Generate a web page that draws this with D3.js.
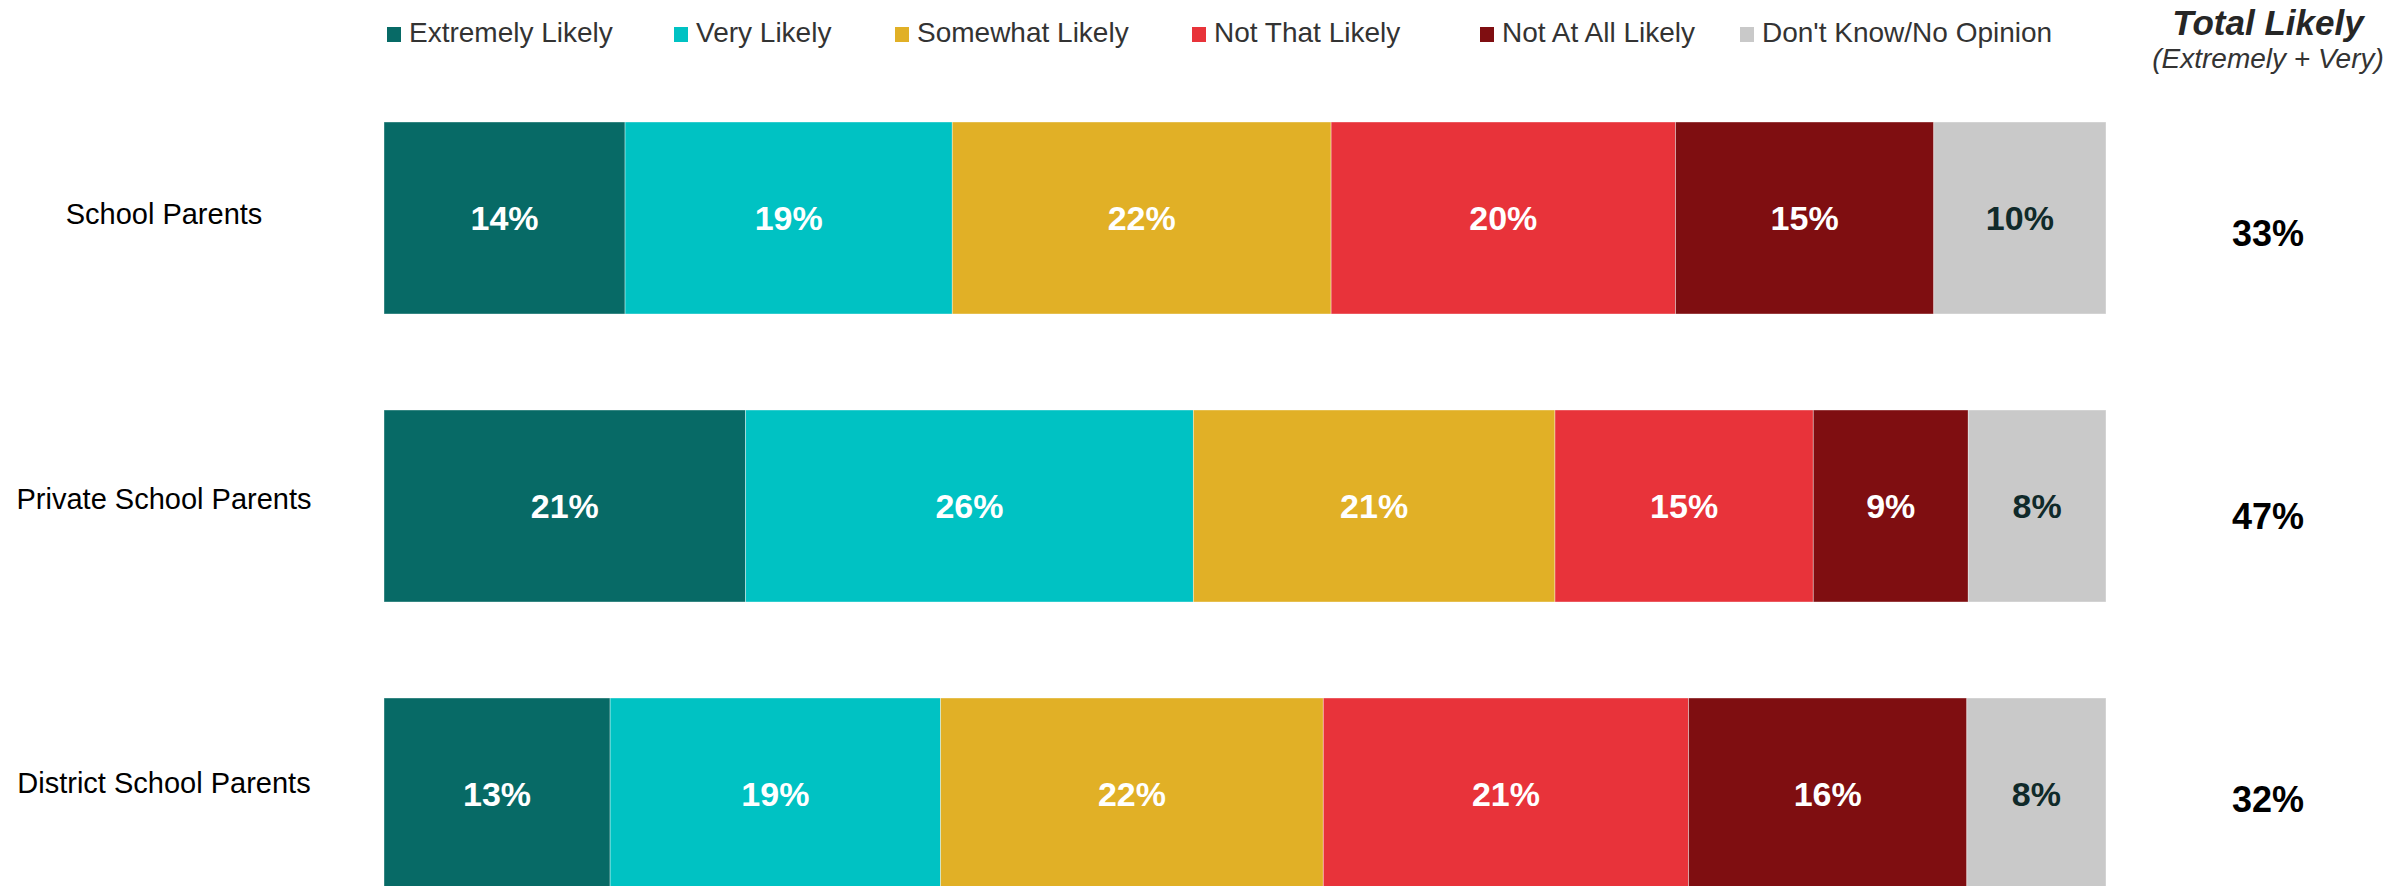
<!DOCTYPE html>
<html>
<head>
<meta charset="utf-8">
<script src="https://cdn.jsdelivr.net/npm/d3@7"></script>
<style>
  html, body { margin: 0; padding: 0; background: #fff; }
  svg { display: block; font-family: "Liberation Sans", Arial, sans-serif; }
</style>
</head>
<body>
<svg id="chart" width="2394" height="886"></svg>
<script>
// Survey groups (rows) and answer categories (stack order, left to right)
const groups = ["School Parents", "Private School Parents", "District School Parents"];
const answers = ["Extremely Likely", "Very Likely", "Somewhat Likely", "Not That Likely", "Not At All Likely", "Don't Know/No Opinion"];

// Percent of respondents per answer, one array per group
const schoolParents   = [14, 19, 22, 20, 15, 10];
const privateParents  = [21, 26, 21, 15, 9, 8];
const districtParents = [13, 19, 22, 21, 16, 8];

const answerColors = ["#076a66", "#00c2c3", "#e1b026", "#e8333a", "#7f0e11", "#c9c9c9"];
const labelColors  = ["#ffffff", "#ffffff", "#ffffff", "#ffffff", "#ffffff", "#102a2a"];

const rows = [schoolParents, privateParents, districtParents].map((vals, i) => {
  const r = { group: groups[i] };
  answers.forEach((a, j) => r[a] = vals[j]);
  return r;
});

const svg = d3.select("#chart");
const font = "'Liberation Sans', Arial, sans-serif";

// 100% stacked layout: each bar is normalised to its own total
const series = d3.stack().keys(answers).offset(d3.stackOffsetExpand)(rows);

const x = d3.scaleLinear().domain([0, 1]).range([384, 2106]);
const y = d3.scaleBand().domain(groups).range([122, 890]).paddingInner(1 / 3).paddingOuter(0);
const color = d3.scaleOrdinal().domain(answers).range(answerColors);
const textColor = d3.scaleOrdinal().domain(answers).range(labelColors);

// Bars
const layer = svg.append("g").selectAll("g")
  .data(series).join("g")
  .attr("fill", d => color(d.key));

layer.selectAll("rect")
  .data(d => d.map(p => Object.assign(p, { key: d.key })))
  .join("rect")
  .attr("x", d => x(d[0]))
  .attr("y", d => y(d.data.group))
  .attr("width", d => x(d[1]) - x(d[0]))
  .attr("height", y.bandwidth())
  .attr("stroke", "#ffffff")
  .attr("stroke-opacity", 0.5)
  .attr("stroke-width", 0.75);

// Value labels inside segments
layer.selectAll("text")
  .data(d => d)
  .join("text")
  .attr("x", d => (x(d[0]) + x(d[1])) / 2)
  .attr("y", d => y(d.data.group) + y.bandwidth() / 2 + 12)
  .attr("text-anchor", "middle")
  .attr("font-family", font)
  .attr("font-weight", "bold")
  .attr("font-size", 34)
  .attr("fill", d => textColor(d.key))
  .text(d => d.data[d.key] + "%");

// Group labels on the left
const catY = d3.scalePoint().domain(groups).range([224, 793]);
svg.append("g").selectAll("text")
  .data(groups).join("text")
  .attr("x", 164)
  .attr("y", d => catY(d))
  .attr("text-anchor", "middle")
  .attr("font-family", font)
  .attr("font-size", 29)
  .attr("fill", "#000")
  .text(d => d);

// Total likely column (Extremely + Very)
const totY = d3.scalePoint().domain(groups).range([246, 812]);
svg.append("g").selectAll("text")
  .data(rows).join("text")
  .attr("x", 2268)
  .attr("y", d => totY(d.group))
  .attr("text-anchor", "middle")
  .attr("font-family", font)
  .attr("font-weight", "bold")
  .attr("font-size", 36)
  .attr("fill", "#000")
  .text(d => (d[answers[0]] + d[answers[1]]) + "%");

svg.append("text")
  .attr("x", 2268).attr("y", 35)
  .attr("text-anchor", "middle")
  .attr("font-family", font)
  .attr("font-weight", "bold")
  .attr("font-style", "italic")
  .attr("font-size", 35)
  .attr("fill", "#262626")
  .text("Total Likely");

svg.append("text")
  .attr("x", 2268).attr("y", 68)
  .attr("text-anchor", "middle")
  .attr("font-family", font)
  .attr("font-style", "italic")
  .attr("font-size", 28)
  .attr("fill", "#333")
  .text("(Extremely + Very)");

// Legend: left edge of each swatch along the top row
const legendLeft = [387, 674, 895, 1192, 1480, 1740];
const legend = svg.append("g").selectAll("g")
  .data(answers).join("g")
  .attr("transform", (d, i) => `translate(${legendLeft[i]},0)`);

legend.append("rect")
  .attr("x", 0).attr("y", 27)
  .attr("width", 14).attr("height", 15)
  .attr("fill", d => color(d));

legend.append("text")
  .attr("x", 22).attr("y", 42)
  .attr("font-family", font)
  .attr("font-size", 28)
  .attr("fill", "#333")
  .text(d => d);
</script>
</body>
</html>
